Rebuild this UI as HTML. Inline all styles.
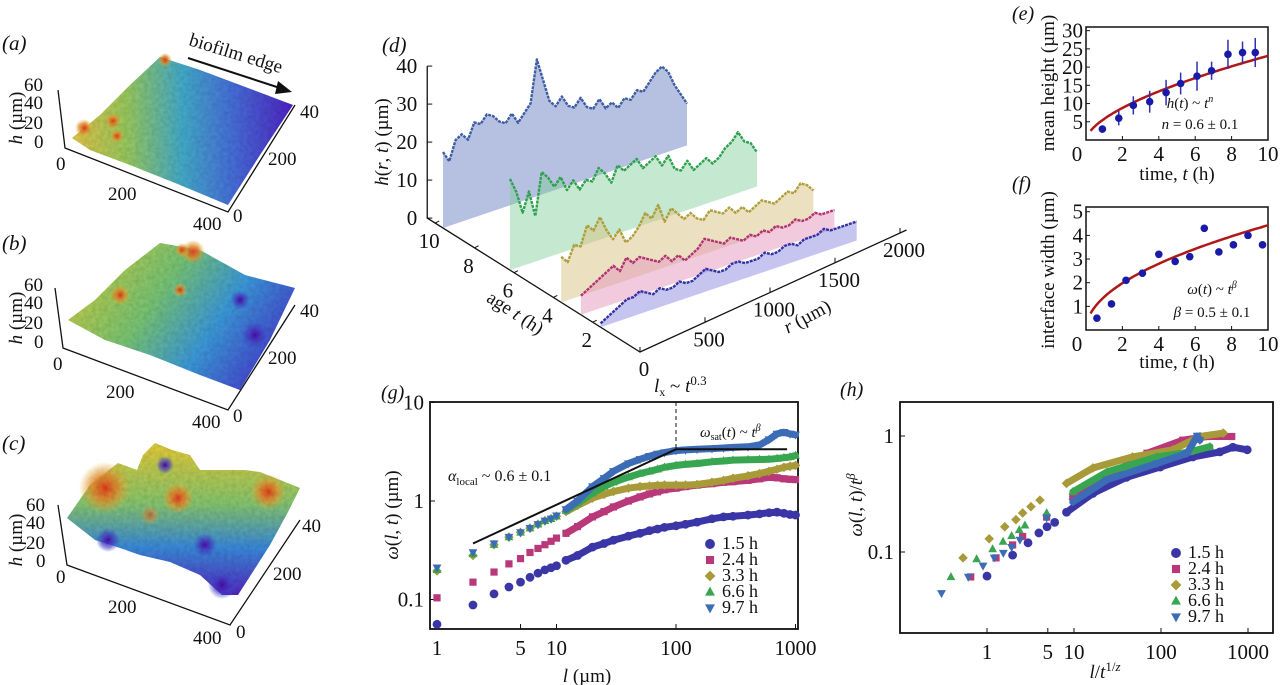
<!DOCTYPE html>
<html><head><meta charset="utf-8"><style>
html,body{margin:0;padding:0;background:#fff;}
svg{display:block;font-family:"Liberation Serif",serif;}
text{fill:#111;}
</style></head><body>
<svg id="fig" width="1280" height="685" viewBox="0 0 1280 685" xmlns="http://www.w3.org/2000/svg">
<defs>
<linearGradient id="ga" x1="72" y1="0" x2="293" y2="0" gradientUnits="userSpaceOnUse">
<stop offset="0" stop-color="#e6c94a"/><stop offset="0.25" stop-color="#9ccf62"/><stop offset="0.5" stop-color="#46b0d0"/><stop offset="0.72" stop-color="#4a74e0"/><stop offset="1" stop-color="#5226c8"/></linearGradient>
<linearGradient id="gb" x1="90" y1="260" x2="270" y2="380" gradientUnits="userSpaceOnUse">
<stop offset="0" stop-color="#c6d24a"/><stop offset="0.35" stop-color="#7cca78"/><stop offset="0.65" stop-color="#3e9ee0"/><stop offset="1" stop-color="#4a3ad4"/></linearGradient>
<linearGradient id="gc" x1="0" y1="450" x2="0" y2="600" gradientUnits="userSpaceOnUse">
<stop offset="0" stop-color="#e0d040"/><stop offset="0.35" stop-color="#8ccc70"/><stop offset="0.65" stop-color="#3c8ee0"/><stop offset="1" stop-color="#5a22c4"/></linearGradient>
<radialGradient id="hot"><stop offset="0" stop-color="#e84020"/><stop offset="0.5" stop-color="#f09030" stop-opacity="0.8"/><stop offset="1" stop-color="#f0c040" stop-opacity="0"/></radialGradient>
<radialGradient id="cold"><stop offset="0" stop-color="#5010b0"/><stop offset="0.6" stop-color="#4a40d0" stop-opacity="0.6"/><stop offset="1" stop-color="#4060e0" stop-opacity="0"/></radialGradient>
<filter id="tex"><feTurbulence type="fractalNoise" baseFrequency="0.25" numOctaves="2" result="n"/><feColorMatrix in="n" type="matrix" values="0 0 0 0 0  0 0 0 0 0  0 0 0 0 0  0 0 0 0.35 0" result="d"/><feComposite in="d" in2="SourceGraphic" operator="in" result="dd"/><feMerge><feMergeNode in="SourceGraphic"/><feMergeNode in="dd"/></feMerge></filter>
</defs>

<!-- Panel a -->
<g>
<text x="2" y="50" font-size="21" font-style="italic">(a)</text>
<g filter="url(#tex)">
<polygon points="72,138 100,115 130,85 160,57 200,70 240,85 293,105 260,155 228,205 180,185 130,165 90,150" fill="url(#ga)"/>
<circle cx="84" cy="128" r="9" fill="url(#hot)"/><circle cx="113" cy="121" r="8" fill="url(#hot)"/><circle cx="117" cy="136" r="7" fill="url(#hot)"/><circle cx="165" cy="60" r="7" fill="url(#hot)"/>
</g>
<polyline points="58,90 65,148 228,212 295,105" fill="none" stroke="#111" stroke-width="1.3"/>
<text x="24" y="91" font-size="19">60</text><text x="24" y="109" font-size="19">40</text><text x="24" y="129" font-size="19">20</text><text x="34" y="148" font-size="19">0</text>
<text transform="translate(22,118) rotate(-90)" font-size="19" text-anchor="middle"><tspan font-style="italic">h</tspan> (µm)</text>
<text x="56" y="170" font-size="19">0</text><text x="108" y="200" font-size="19">200</text><text x="193" y="230" font-size="19">400</text>
<text x="233" y="222" font-size="19">0</text><text x="268" y="165" font-size="19">200</text><text x="300" y="118" font-size="19">40</text>
<text transform="translate(188,45) rotate(17)" font-size="19">biofilm edge</text>
<line x1="188" y1="58" x2="280" y2="88" stroke="#111" stroke-width="2"/><polygon points="292,92 278,81 275,94" fill="#111"/>
</g>

<!-- Panel b -->
<g>
<text x="2" y="250" font-size="21" font-style="italic">(b)</text>
<g filter="url(#tex)">
<polygon points="68,320 95,300 125,270 160,243 200,250 245,275 295,288 270,340 240,390 200,375 150,355 105,340" fill="url(#gb)"/>
<circle cx="193" cy="252" r="12" fill="url(#hot)"/><circle cx="182" cy="250" r="7" fill="url(#hot)"/><circle cx="120" cy="295" r="10" fill="url(#hot)"/><circle cx="180" cy="290" r="7" fill="url(#hot)"/>
<circle cx="255" cy="335" r="14" fill="url(#cold)"/><circle cx="240" cy="300" r="10" fill="url(#cold)"/>
</g>
<polyline points="55,288 63,348 228,410 295,305" fill="none" stroke="#111" stroke-width="1.3"/>
<text x="24" y="291" font-size="19">60</text><text x="24" y="309" font-size="19">40</text><text x="24" y="329" font-size="19">20</text><text x="34" y="348" font-size="19">0</text>
<text transform="translate(22,318) rotate(-90)" font-size="19" text-anchor="middle"><tspan font-style="italic">h</tspan> (µm)</text>
<text x="53" y="370" font-size="19">0</text><text x="106" y="398" font-size="19">200</text><text x="192" y="428" font-size="19">400</text>
<text x="233" y="422" font-size="19">0</text><text x="268" y="364" font-size="19">200</text><text x="300" y="317" font-size="19">40</text>
</g>

<!-- Panel c -->
<g>
<text x="2" y="450" font-size="21" font-style="italic">(c)</text>
<g filter="url(#tex)">
<polygon points="67,518 90,485 118,463 137,470 143,455 155,443 172,450 190,455 200,470 245,470 260,472 300,488 288,512 270,545 238,595 222,595 200,575 170,562 140,555 120,548 95,540" fill="url(#gc)"/>
<circle cx="105" cy="488" r="26" fill="url(#hot)"/><circle cx="268" cy="492" r="18" fill="url(#hot)"/><circle cx="178" cy="498" r="16" fill="url(#hot)"/><circle cx="150" cy="515" r="10" fill="url(#hot)" opacity="0.6"/>
<circle cx="222" cy="585" r="14" fill="url(#cold)"/><circle cx="205" cy="545" r="12" fill="url(#cold)"/><circle cx="108" cy="540" r="12" fill="url(#cold)"/><circle cx="165" cy="465" r="9" fill="url(#cold)"/>
</g>
<polyline points="58,505 67,565 230,625 300,520" fill="none" stroke="#111" stroke-width="1.3"/>
<text x="26" y="511" font-size="19">60</text><text x="26" y="529" font-size="19">40</text><text x="26" y="549" font-size="19">20</text><text x="36" y="567" font-size="19">0</text>
<text transform="translate(22,540) rotate(-90)" font-size="19" text-anchor="middle"><tspan font-style="italic">h</tspan> (µm)</text>
<text x="56" y="583" font-size="19">0</text><text x="108" y="613" font-size="19">200</text><text x="193" y="644" font-size="19">400</text>
<text x="236" y="638" font-size="19">0</text><text x="273" y="580" font-size="19">200</text><text x="302" y="532" font-size="19">40</text>
</g>

<!-- Panel d -->
<g id="pd">
<text x="382" y="52" font-size="21" font-style="italic">(d)</text>
<text transform="translate(388,142) rotate(-90)" font-size="19" text-anchor="middle"><tspan font-style="italic">h</tspan>(<tspan font-style="italic">r</tspan>, <tspan font-style="italic">t</tspan>) (µm)</text>
<text transform="translate(512,318) rotate(33)" font-size="19" text-anchor="middle">age <tspan font-style="italic">t</tspan> (h)</text>
<text transform="translate(810,322) rotate(-28)" font-size="19" text-anchor="middle"><tspan font-style="italic">r</tspan> (µm)</text>
</g>

<!-- Panel e -->
<g id="pe">
<text x="1012" y="20" font-size="20" font-style="italic">(e)</text>
<text transform="translate(1054,83) rotate(-90)" font-size="19" text-anchor="middle">mean height (µm)</text>
<text x="1177" y="180" font-size="19" text-anchor="middle">time, <tspan font-style="italic">t</tspan> (h)</text>
<text x="1190" y="108" font-size="15" text-anchor="middle"><tspan font-style="italic">h</tspan>(<tspan font-style="italic">t</tspan>) ~ <tspan font-style="italic">t</tspan><tspan font-size="10" dy="-6" font-style="italic">n</tspan></text>
<text x="1200" y="129" font-size="15" text-anchor="middle"><tspan font-style="italic">n</tspan> = 0.6 ± 0.1</text>
</g>

<!-- Panel f -->
<g id="pf">
<text x="1012" y="190" font-size="20" font-style="italic">(f)</text>
<text transform="translate(1054,270) rotate(-90)" font-size="19" text-anchor="middle">interface width (µm)</text>
<text x="1177" y="368" font-size="19" text-anchor="middle">time, <tspan font-style="italic">t</tspan> (h)</text>
<text x="1212" y="294" font-size="15" text-anchor="middle"><tspan font-style="italic">ω</tspan>(<tspan font-style="italic">t</tspan>) ~ <tspan font-style="italic">t</tspan><tspan font-size="10" dy="-6" font-style="italic">β</tspan></text>
<text x="1212" y="317" font-size="15" text-anchor="middle"><tspan font-style="italic">β</tspan> = 0.5 ± 0.1</text>
</g>

<!-- Panel g -->
<g id="pg">
<text x="381" y="399" font-size="20" font-style="italic">(g)</text>
<text transform="translate(398,515) rotate(-90)" font-size="19" text-anchor="middle"><tspan font-style="italic">ω</tspan>(<tspan font-style="italic">l</tspan>, <tspan font-style="italic">t</tspan>) (µm)</text>
<text x="587" y="682" font-size="19" text-anchor="middle"><tspan font-style="italic">l</tspan> (µm)</text>
<text x="448" y="481" font-size="16"><tspan font-style="italic">α</tspan><tspan font-size="11" dy="4">local</tspan><tspan dy="-4"> ~ 0.6 ± 0.1</tspan></text>
<text x="700" y="437" font-size="15"><tspan font-style="italic">ω</tspan><tspan font-size="10" dy="3">sat</tspan><tspan dy="-3">(</tspan><tspan font-style="italic">t</tspan>) ~ <tspan font-style="italic">t</tspan><tspan font-size="10" dy="-6" font-style="italic">β</tspan></text>
<text x="654" y="392" font-size="19"><tspan font-style="italic">l</tspan><tspan font-size="12" dy="4">x</tspan><tspan dy="-4"> ~ </tspan><tspan font-style="italic">t</tspan><tspan font-size="13" dy="-7">0.3</tspan></text>
</g>

<!-- Panel h -->
<g id="ph">
<text x="840" y="396" font-size="20" font-style="italic">(h)</text>
<text transform="translate(862,505) rotate(-90)" font-size="19" text-anchor="middle"><tspan font-style="italic">ω</tspan>(<tspan font-style="italic">l</tspan>, <tspan font-style="italic">t</tspan>)/<tspan font-style="italic">t</tspan><tspan font-size="13" dy="-7" font-style="italic">β</tspan></text>
<text x="1105" y="678" font-size="19" text-anchor="middle"><tspan font-style="italic">l</tspan>/<tspan font-style="italic">t</tspan><tspan font-size="13" dy="-7">1/</tspan><tspan font-size="13" font-style="italic">z</tspan></text>
</g>
</svg>

<script>
// ---------- Panel d data ----------
const ribbonAge = [10, 6.6, 4, 3, 2];
const ribbonREnd = [1877, 1900, 1940, 1950, 1970];
const profileBlue = [20,17,22,23,21,25,24,26,25,23,22,24,21,23,25,36,30,24,22,24,21,20,22,19,18,20,17,18,16,18,17,19,18,20,22,23,21,17,14,11];
const profileGreen = [24,20,14,19,12,23,21,18,20,16,18,15,17,16,19,17,14,18,16,17,18,15,16,17,14,16,12,11,13,10,11,12,10,11,13,14,16,13,12,9];
const profileYellow = [12,10,14,13,18,16,19,15,12,14,10,11,13,16,14,17,12,15,13,11,12,10,9,11,10,9,10,8,9,7,8,9,8,7,8,9,8,10,9,7];
const profilePink = [5,6,7,8,9,10,8,11,9,10,9,8,7,8,6,7,5,6,7,9,8,7,6,7,6,5,6,5,6,5,6,5,5,6,5,5,6,5,5,5];
const profilePurple = [1,2,3,4,5,5,6,5,4,5,4,4,5,4,4,5,6,5,4,4,5,5,4,4,4,5,4,4,5,5,4,5,5,5,6,5,5,5,5,5];
const dHTicks = [0,10,20,30,40];
const dAgeTicks = [2,4,6,8,10];
const dRTicks = [0,500,1000,1500,2000];

// ---------- Panel e data ----------
const eTime = [0.9,1.8,2.6,3.5,4.4,5.2,6.1,6.9,7.8,8.6,9.3];
const eHeight = [3,6,9.5,10.5,13,15.5,17.5,19,23.5,24,24];
const eErr = [1,2,2.5,3,3.5,3,4,2.5,4,3,4];
const eYTicks = [5,10,15,20,25,30];
const xTicksTime = [0,2,4,6,8,10];
const eFitExp = 0.6, eFitAmp = 5.8;

// ---------- Panel f data ----------
const fTime = [0.6,1.4,2.2,3.1,4,4.9,5.7,6.5,7.3,8.1,8.9,9.7];
const fWidth = [0.5,1.1,2.1,2.4,3.2,2.9,3.1,4.3,3.3,3.6,4.0,3.6];
const fYTicks = [1,2,3,4,5];
const fFitExp = 0.5, fFitAmp = 1.4;

// ---------- Panel g data ----------
const gL = [1,2,3,4,5,6,7,8,9,10,12,15,20,25,30,40,50,60,70,80,100,120,150,200,250,300,400,500,600,700,800,900,1000];
const g15 = [0.056,0.088,0.114,0.134,0.15,0.168,0.185,0.2,0.21,0.22,0.25,0.28,0.34,0.37,0.4,0.44,0.47,0.5,0.52,0.54,0.56,0.58,0.61,0.66,0.69,0.7,0.72,0.74,0.76,0.77,0.75,0.73,0.72];
const g24 = [0.104,0.15,0.19,0.23,0.26,0.3,0.33,0.36,0.39,0.42,0.47,0.55,0.69,0.78,0.87,1.0,1.1,1.18,1.24,1.3,1.35,1.4,1.45,1.5,1.55,1.57,1.62,1.68,1.74,1.72,1.68,1.66,1.65];
const g33 = [0.195,0.28,0.36,0.43,0.48,0.53,0.58,0.63,0.66,0.7,0.78,0.9,1.07,1.17,1.25,1.35,1.4,1.42,1.44,1.45,1.45,1.45,1.47,1.55,1.62,1.7,1.8,1.9,2.0,2.1,2.2,2.25,2.3];
const g66 = [0.2,0.29,0.36,0.43,0.48,0.53,0.58,0.63,0.66,0.7,0.8,0.95,1.2,1.4,1.55,1.75,1.9,2.0,2.1,2.2,2.3,2.35,2.4,2.5,2.55,2.6,2.62,2.64,2.65,2.7,2.75,2.8,2.9];
const g97 = [0.21,0.3,0.37,0.43,0.48,0.53,0.58,0.63,0.66,0.71,0.82,1.0,1.4,1.7,2.0,2.4,2.65,2.85,3.0,3.1,3.25,3.3,3.35,3.4,3.45,3.5,3.55,3.7,4.2,4.8,5.0,4.8,4.7];
const gXTicks = [1,5,10,100,1000];
const gXTickLabels = ['1','5','10','100','1000'];
const gYTicks = [0.1,1,10];
const gYTickLabels = ['0.1','1','10'];
const seriesLabels = ['1.5 h','2.4 h','3.3 h','6.6 h','9.7 h'];
const guideL = [2,100,850];
const guideW = [0.37,3.35,3.35];

// ---------- Panel h data ----------
const h15x = [1,1.97,2.96,3.95,4.9,6,8.2,16.5,40,98,233,475,670,980];
const h15y = [0.062,0.094,0.12,0.146,0.165,0.18,0.22,0.32,0.44,0.54,0.66,0.73,0.8,0.76];
const h24x = [0.65,1.27,1.97,2.57,4.85,9.7,24,69,178,340,650];
const h24y = [0.061,0.089,0.115,0.136,0.2,0.30,0.45,0.71,0.92,0.99,0.99];
const h33x = [0.53,1.06,1.6,2.15,2.57,3.2,4.06,8.2,16.5,47,137,280,520];
const h33y = [0.089,0.13,0.165,0.19,0.217,0.246,0.28,0.39,0.53,0.66,0.76,0.99,1.06];
const h66x = [0.385,0.76,1.16,1.53,1.92,2.35,2.73,4.85,9.7,24,90,215,365];
const h66y = [0.061,0.087,0.106,0.123,0.138,0.155,0.17,0.217,0.33,0.49,0.66,0.73,0.81];
const h97x = [0.3,0.61,0.9,1.21,1.54,1.92,2.39,4.85,9.7,24,90,200,260,280];
const h97y = [0.044,0.061,0.076,0.089,0.098,0.11,0.127,0.197,0.27,0.42,0.58,0.71,1.0,0.92];
const hXTicks = [1,5,10,100,1000];
const hXTickLabels = ['1','5','10','100','1000'];
const hYTicks = [0.1,1];
const hYTickLabels = ['0.1','1'];

const NS = 'http://www.w3.org/2000/svg';
function mk(parent, tag, attrs) {
  const e = document.createElementNS(NS, tag);
  for (const k in attrs) e.setAttribute(k, attrs[k]);
  parent.appendChild(e);
  return e;
}
const colors = ['#3a36a6','#b8387a','#a89a38','#38a650','#3c6cb6'];
const shapes = ['circle','square','diamond','tri-up','tri-down'];

function marker(parent, shape, x, y, s, color) {
  let e;
  if (shape === 'circle') e = mk(parent, 'circle', {cx:x, cy:y, r:s*0.55, fill:color});
  else if (shape === 'square') e = mk(parent, 'rect', {x:x-s*0.45, y:y-s*0.45, width:s*0.9, height:s*0.9, fill:color});
  else if (shape === 'diamond') e = mk(parent, 'polygon', {points:`${x},${y-s*0.6} ${x+s*0.6},${y} ${x},${y+s*0.6} ${x-s*0.6},${y}`, fill:color});
  else if (shape === 'tri-up') e = mk(parent, 'polygon', {points:`${x},${y-s*0.6} ${x+s*0.55},${y+s*0.4} ${x-s*0.55},${y+s*0.4}`, fill:color});
  else e = mk(parent, 'polygon', {points:`${x},${y+s*0.6} ${x+s*0.55},${y-s*0.4} ${x-s*0.55},${y-s*0.4}`, fill:color});
  return e;
}
function txt(parent, x, y, s, size, anchor) {
  const t = mk(parent, 'text', {x:x, y:y, 'font-size':size, 'text-anchor':anchor||'middle'});
  t.textContent = s;
  return t;
}

// ===== Panel d =====
(function(){
  const g = document.getElementById('pd');
  const P = (t, r, h) => [640 - 19.7*t + 0.13*r, 352 - 12.4*t - 0.044*r - 3.8*h];
  const RA = r => [640 + 0.13*r, 352 - 0.0595*r];
  const profiles = [profileBlue, profileGreen, profileYellow, profilePink, profilePurple];
  const fills = ['rgba(110,130,195,0.5)','rgba(125,205,150,0.45)','rgba(215,195,130,0.5)','rgba(230,150,190,0.5)','rgba(140,140,225,0.5)'];
  const lines = ['#3e5ea4','#2fa04e','#ae9e3c','#b23274','#3232a4'];
  const a0 = P(10.8,0,0), a1 = P(10.8,0,40);
  const axis = mk(g,'polyline',{points:`${a1[0]},${a1[1]} ${a0[0]},${a0[1]} 640,352 ${RA(2050)[0]},${RA(2050)[1]}`, fill:'none', stroke:'#111', 'stroke-width':1.3});
  
  
  dHTicks.forEach(h => {
    const p = P(10.8,0,h);
    mk(g,'line',{x1:p[0],y1:p[1],x2:p[0]+5,y2:p[1],stroke:'#111'});
    txt(g, p[0]-10, p[1]+7, String(h), 21, 'end');
  });
  dAgeTicks.forEach(t => {
    const p = P(t+0.4,0,0);
    mk(g,'line',{x1:p[0],y1:p[1],x2:p[0]+4,y2:p[1]-2,stroke:'#111'});
    txt(g, p[0]-6, p[1]+25, String(t), 21);
  });
  dRTicks.forEach(r => {
    const p = RA(r);
    mk(g,'line',{x1:p[0],y1:p[1],x2:p[0],y2:p[1]-5,stroke:'#111'});
    txt(g, p[0]+4, p[1]+24, String(r), 21);
  });
  profiles.forEach((prof, i) => {
    const t = ribbonAge[i], n = prof.length, rEnd = ribbonREnd[i];
    const pts = prof.map((h, k) => P(t, rEnd*k/(n-1), h));
    const b0 = P(t,0,0), b1 = P(t,rEnd,0);
    const poly = mk(g,'polygon',{points: `${b0[0]},${b0[1]} ` + pts.map(p=>p.join(',')).join(' ') + ` ${b1[0]},${b1[1]}`, fill:fills[i]});
    
    
    const pl = mk(g,'polyline',{points: pts.map(p=>p.join(',')).join(' '), fill:'none', stroke:lines[i], 'stroke-width':2.4, 'stroke-linejoin':'round', 'stroke-dasharray':'3,1'});
    
    
  });
})();

// ===== Panels e/f =====
function timePanel(gid, x0, x1, yTop, yBot, yMax, yTicks, xs, ys, errs, amp, ex, name) {
  const g = document.getElementById(gid);
  const X = v => x0 + (x1-x0)*v/10;
  const Y = v => yBot - (yBot-yTop)*v/yMax;
  const box = mk(g,'rect',{x:x0,y:yTop,width:x1-x0,height:yBot-yTop,fill:'none',stroke:'#111','stroke-width':1.5});
  
  
  yTicks.forEach(v => { mk(g,'line',{x1:x0,y1:Y(v),x2:x0+4,y2:Y(v),stroke:'#111'}); txt(g, x0-3, Y(v)+7, String(v), 21, 'end'); });
  xTicksTime.forEach(v => { mk(g,'line',{x1:X(v),y1:yBot,x2:X(v),y2:yBot-4,stroke:'#111'}); txt(g, v===0? X(v)-9 : X(v), yBot+21, String(v), 21); });
  let d = '';
  for (let k = 0; k <= 60; k++) { const t = 0.25 + 9.75*k/60; d += (k?' L':'M') + X(t).toFixed(1) + ' ' + Y(amp*Math.pow(t,ex)).toFixed(1); }
  const fit = mk(g,'path',{d:d, fill:'none', stroke:'#b01818','stroke-width':2.5});
  
  
  xs.forEach((t, i) => {
    if (errs) {
      const eb = mk(g,'line',{x1:X(t),y1:Y(ys[i]-errs[i]),x2:X(t),y2:Y(ys[i]+errs[i]),stroke:'#3030b0','stroke-width':1.5});
      
      
    }
    const c = mk(g,'circle',{cx:X(t),cy:Y(ys[i]),r:3.8,fill:'#1a1aa8'});
    
    
  });
}
timePanel('pe', 1086, 1268, 27, 140, 31, eYTicks, eTime, eHeight, eErr, eFitAmp, eFitExp, 'mean-height');
timePanel('pf', 1086, 1268, 207, 330, 5.2, fYTicks, fTime, fWidth, null, fFitAmp, fFitExp, 'interface-width');

// ===== Log panels g/h =====
function logPanel(gid, box, xm, ym, xT, xTL, yT, yTL, xsArr, ysArr, lineFrom, legend, name) {
  const g = document.getElementById(gid);
  const X = v => xm.x0 + xm.k*Math.log10(v);
  const Y = v => ym.y0 - ym.k*Math.log10(v);
  const fr = mk(g,'rect',{x:box[0],y:box[1],width:box[2]-box[0],height:box[3]-box[1],fill:'none',stroke:'#111','stroke-width':1.8});
  
  
  xT.forEach((v,i) => { mk(g,'line',{x1:X(v),y1:box[3],x2:X(v),y2:box[3]-5,stroke:'#111'}); txt(g, X(v), box[3]+26, xTL[i], 21); });
  yT.forEach((v,i) => { mk(g,'line',{x1:box[0],y1:Y(v),x2:box[0]+5,y2:Y(v),stroke:'#111'}); txt(g, box[0]-6, Y(v)+7, yTL[i], 21, 'end'); });
  xsArr.forEach((xs, s) => {
    const ys = ysArr[s];
    const pts = [];
    xs.forEach((v,i) => { if (v >= lineFrom) pts.push(X(v).toFixed(1)+','+Y(ys[i]).toFixed(1)); });
    const pl = mk(g,'polyline',{points:pts.join(' '),fill:'none',stroke:colors[s],'stroke-width':7,'stroke-linejoin':'round','stroke-linecap':'round'});
    
    
    xs.forEach((v,i) => {
      const m = marker(g, shapes[s], X(v), Y(ys[i]), 8, colors[s]);
      
      
    });
  });
  seriesLabels.forEach((lab, i) => {
    const yy = legend.y + i*16;
    const m = marker(g, shapes[i], legend.x, yy-5, 9, colors[i]);
    
    
    const t = txt(g, legend.x+12, yy, lab, 18, 'start');
    
    
  });
  return {X, Y, g};
}
const gp = logPanel('pg', [430,402,798,629], {x0:437,k:119.5}, {y0:501,k:98.5}, gXTicks, gXTickLabels, gYTicks, gYTickLabels,
  [gL,gL,gL,gL,gL], [g15,g24,g33,g66,g97], 11, {x:710,y:549}, 'width-vs-length');
(function(){
  const pts = guideL.map((l,i) => gp.X(l).toFixed(1)+','+gp.Y(guideW[i]).toFixed(1)).join(' ');
  const gl = mk(gp.g,'polyline',{points:pts,fill:'none',stroke:'#111','stroke-width':2});
  
  
  const dl = mk(gp.g,'line',{x1:gp.X(100),y1:402,x2:gp.X(100),y2:gp.Y(guideW[1]),stroke:'#111','stroke-dasharray':'4,3'});
  
  
})();
logPanel('ph', [900,402,1273,633], {x0:987,k:87}, {y0:436,k:116}, hXTicks, hXTickLabels, hYTicks, hYTickLabels,
  [h15x,h24x,h33x,h66x,h97x], [h15y,h24y,h33y,h66y,h97y], 8, {x:1176,y:558}, 'collapsed-width');
</script>
</body></html>
